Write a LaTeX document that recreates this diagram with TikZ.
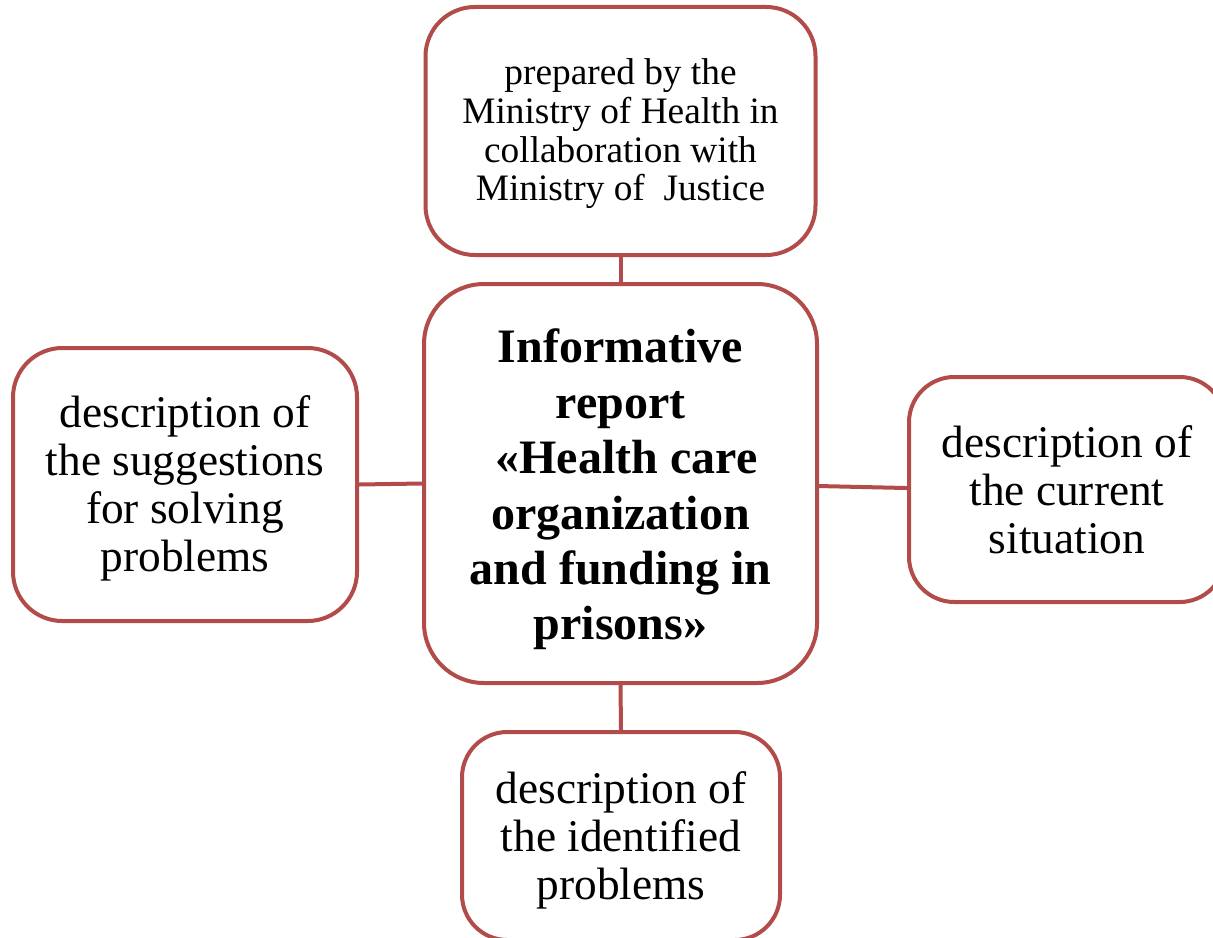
\documentclass[tikz,border=0pt]{standalone}
\usepackage{fontspec}
\setmainfont{Liberation Serif}
\definecolor{boxred}{RGB}{178,76,74}
\begin{document}
\begin{tikzpicture}[x=0.75pt,y=-0.75pt,
  box/.style={draw=boxred, line width=3pt, fill=white, rectangle, inner sep=0pt},
  lab/.style={align=center, text=black, inner sep=0pt},
  normaltext/.style={lab, font=\fontsize{34}{36}\selectfont},
  conn/.style={draw=boxred, line width=3pt}]
\useasboundingbox (0,0) rectangle (1213,938);
\clip (0,0) rectangle (1213,938);
\fill[white] (0,0) rectangle (1213,938);
\node[box, rounded corners=37pt, minimum width=292.5pt, minimum height=186pt,
  label={[lab, font=\fontsize{28}{29}\selectfont, yshift=-2.2pt]center:{prepared by the\\Ministry of Health in\\collaboration with\\Ministry of\ \ Justice}}]
  (top) at (620.5,131) {};
\node[box, rounded corners=45pt, minimum width=294.75pt, minimum height=299.25pt,
  label={[lab, font=\fontsize{36}{41.6}\selectfont\bfseries, yshift=-4.5pt]center:{Informative\\report\\\ «Health care\\organization\\and funding in\\prisons»}}]
  (center) at (620.5,483.5) {};
\node[box, rounded corners=37pt, minimum width=258pt, minimum height=204.75pt,
  label={[normaltext, yshift=-3pt]center:{description of\\the suggestions\\for solving\\problems}}]
  (left) at (185,484.5) {};
\node[box, rounded corners=34pt, minimum width=237pt, minimum height=168.75pt,
  label={[normaltext, yshift=-0.5pt]center:{description of\\the current\\situation}}]
  (right) at (1067,489.5) {};
\node[box, rounded corners=34pt, minimum width=238.5pt, minimum height=156pt,
  label={[normaltext, yshift=-3pt]center:{description of\\the identified\\problems}}]
  (bottom) at (621,836) {};
\draw[conn] (top.south) -- (center.north);
\draw[conn] (left.east) -- (center.west);
\draw[conn] ([yshift=-1.9pt]center.east) -- ([yshift=1.1pt]right.west);
\draw[conn] (center.south) -- (bottom.north);
\end{tikzpicture}
\end{document}
